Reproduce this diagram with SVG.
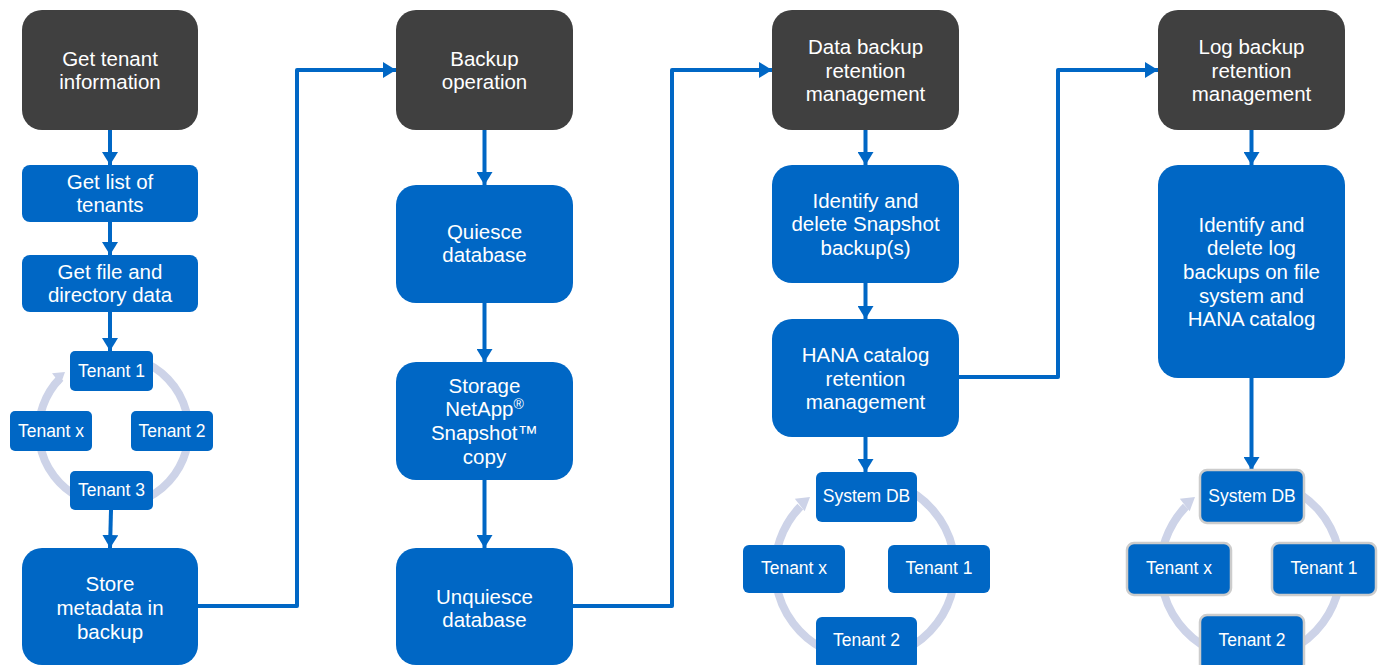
<svg xmlns="http://www.w3.org/2000/svg" width="1381" height="665" viewBox="0 0 1381 665">
<style>
.dark{fill:#404040}
.blue{fill:#0067C5}
.bord{stroke:#CCCCCC;stroke-width:2.5}
.t{font-family:"Liberation Sans",Arial,sans-serif;font-size:20.5px;fill:#fff;text-anchor:middle}
.s{font-family:"Liberation Sans",Arial,sans-serif;font-size:17.5px;fill:#fff;text-anchor:middle}
.c{fill:none;stroke:#0067C5;stroke-width:4;stroke-linejoin:round}
.ring{fill:none;stroke:#CDD3E8;stroke-width:8}
.rh{fill:#CDD3E8}
</style>
<defs>
<marker id="ah" viewBox="0 0 13 16" refX="13" refY="8" markerWidth="13" markerHeight="16" markerUnits="userSpaceOnUse" orient="auto">
<path d="M0,0 L13,8 L0,16 z" fill="#0067C5"/>
</marker>
</defs>

<g id="rings">
<path class="ring" d="M 60.5 377.9 A 75 75 0 1 0 104.5 356.3"/>
<polygon class="rh" points="0,0 -11,-7 -11,7" transform="translate(65,372) rotate(-38)"/>
<path class="ring" d="M 800.3 506.6 A 90 90 0 1 0 858 479.4"/>
<polygon class="rh" points="0,0 -13,-8 -13,8" transform="translate(810,497) rotate(-38)"/>
<path class="ring" d="M 1185.8 506.6 A 90 90 0 1 0 1243 479.4"/>
<polygon class="rh" points="0,0 -13,-8 -13,8" transform="translate(1195,497) rotate(-38)"/>
</g>

<g id="connectors">
<line class="c" x1="110" y1="130" x2="110" y2="165" marker-end="url(#ah)"/>
<line class="c" x1="110" y1="222" x2="110" y2="255" marker-end="url(#ah)"/>
<line class="c" x1="110" y1="312" x2="110" y2="351" marker-end="url(#ah)"/>
<line class="c" x1="111" y1="510" x2="110" y2="548" marker-end="url(#ah)"/>
<polyline class="c" points="198,606 297,606 297,70 396,70" marker-end="url(#ah)"/>
<line class="c" x1="484.5" y1="130" x2="484.5" y2="185" marker-end="url(#ah)"/>
<line class="c" x1="484.5" y1="303" x2="484.5" y2="362" marker-end="url(#ah)"/>
<line class="c" x1="484.5" y1="480" x2="484.5" y2="548" marker-end="url(#ah)"/>
<polyline class="c" points="573,606 672,606 672,70 772,70" marker-end="url(#ah)"/>
<line class="c" x1="865.5" y1="130" x2="865.5" y2="165" marker-end="url(#ah)"/>
<line class="c" x1="865.5" y1="283" x2="865.5" y2="319" marker-end="url(#ah)"/>
<line class="c" x1="865.5" y1="437" x2="865.5" y2="472" marker-end="url(#ah)"/>
<polyline class="c" points="959,377 1058,377 1058,70 1158,70" marker-end="url(#ah)"/>
<line class="c" x1="1251.5" y1="130" x2="1251.5" y2="165" marker-end="url(#ah)"/>
<line class="c" x1="1251.5" y1="378" x2="1251.5" y2="470" marker-end="url(#ah)"/>
</g>

<g id="n-get-tenant-info"><rect class="dark" x="22" y="10" width="176" height="120" rx="20"/><text class="t" x="110" y="66">Get tenant</text><text class="t" x="110" y="89">information</text></g>
<g id="n-get-list"><rect class="blue" x="22" y="165" width="176" height="57" rx="8"/><text class="t" x="110" y="189">Get list of</text><text class="t" x="110" y="212">tenants</text></g>
<g id="n-get-file"><rect class="blue" x="22" y="255" width="176" height="57" rx="8"/><text class="t" x="110" y="279">Get file and</text><text class="t" x="110" y="302">directory data</text></g>
<g id="n-c1-t1"><rect class="blue" x="70" y="351" width="83" height="40" rx="5"/><text class="s" x="111.5" y="377">Tenant 1</text></g>
<g id="n-c1-tx"><rect class="blue" x="10" y="411" width="82" height="40" rx="5"/><text class="s" x="51" y="437">Tenant x</text></g>
<g id="n-c1-t2"><rect class="blue" x="131" y="411" width="82" height="40" rx="5"/><text class="s" x="172" y="437">Tenant 2</text></g>
<g id="n-c1-t3"><rect class="blue" x="70" y="471" width="83" height="39" rx="5"/><text class="s" x="111.5" y="496">Tenant 3</text></g>
<g id="n-store"><rect class="blue" x="22" y="548" width="176" height="117" rx="20"/><text class="t" x="110" y="591">Store</text><text class="t" x="110" y="615">metadata in</text><text class="t" x="110" y="639">backup</text></g>

<g id="n-backup-op"><rect class="dark" x="396" y="10" width="177" height="120" rx="20"/><text class="t" x="484.5" y="66">Backup</text><text class="t" x="484.5" y="89">operation</text></g>
<g id="n-quiesce"><rect class="blue" x="396" y="185" width="177" height="118" rx="20"/><text class="t" x="484.5" y="239">Quiesce</text><text class="t" x="484.5" y="262">database</text></g>
<g id="n-snapshot"><rect class="blue" x="396" y="362" width="177" height="118" rx="20"/><text class="t" x="484.5" y="393">Storage</text><text class="t" x="484.5" y="416">NetApp<tspan font-size="14" dy="-7">®</tspan></text><text class="t" x="484.5" y="440">Snapshot™</text><text class="t" x="484.5" y="464">copy</text></g>
<g id="n-unquiesce"><rect class="blue" x="396" y="548" width="177" height="117" rx="20"/><text class="t" x="484.5" y="604">Unquiesce</text><text class="t" x="484.5" y="627">database</text></g>

<g id="n-data-retention"><rect class="dark" x="772" y="10" width="187" height="120" rx="20"/><text class="t" x="865.5" y="54">Data backup</text><text class="t" x="865.5" y="78">retention</text><text class="t" x="865.5" y="101">management</text></g>
<g id="n-identify-snap"><rect class="blue" x="772" y="165" width="187" height="118" rx="20"/><text class="t" x="865.5" y="208">Identify and</text><text class="t" x="865.5" y="231">delete Snapshot</text><text class="t" x="865.5" y="255">backup(s)</text></g>
<g id="n-hana-catalog"><rect class="blue" x="772" y="319" width="187" height="118" rx="20"/><text class="t" x="865.5" y="362">HANA catalog</text><text class="t" x="865.5" y="386">retention</text><text class="t" x="865.5" y="409">management</text></g>
<g id="n-c3-sys"><rect class="blue" x="816" y="472" width="101" height="50" rx="6"/><text class="s" x="866.5" y="502">System DB</text></g>
<g id="n-c3-tx"><rect class="blue" x="743" y="545" width="102" height="48" rx="6"/><text class="s" x="794" y="574">Tenant x</text></g>
<g id="n-c3-t1"><rect class="blue" x="888" y="545" width="102" height="48" rx="6"/><text class="s" x="939" y="574">Tenant 1</text></g>
<g id="n-c3-t2"><rect class="blue" x="816" y="617" width="101" height="52" rx="6"/><text class="s" x="866.5" y="646">Tenant 2</text></g>

<g id="n-log-retention"><rect class="dark" x="1158" y="10" width="187" height="120" rx="20"/><text class="t" x="1251.5" y="54">Log backup</text><text class="t" x="1251.5" y="78">retention</text><text class="t" x="1251.5" y="101">management</text></g>
<g id="n-identify-log"><rect class="blue" x="1158" y="165" width="187" height="213" rx="20"/><text class="t" x="1251.5" y="232">Identify and</text><text class="t" x="1251.5" y="255">delete log</text><text class="t" x="1251.5" y="279">backups on file</text><text class="t" x="1251.5" y="303">system and</text><text class="t" x="1251.5" y="326">HANA catalog</text></g>
<g id="n-c4-sys"><rect class="blue bord" x="1200" y="470" width="104" height="53" rx="7"/><text class="s" x="1252" y="502">System DB</text></g>
<g id="n-c4-tx"><rect class="blue bord" x="1127" y="543" width="104" height="52" rx="7"/><text class="s" x="1179" y="574">Tenant x</text></g>
<g id="n-c4-t1"><rect class="blue bord" x="1272" y="543" width="104" height="52" rx="7"/><text class="s" x="1324" y="574">Tenant 1</text></g>
<g id="n-c4-t2"><rect class="blue bord" x="1200" y="615" width="104" height="56" rx="7"/><text class="s" x="1252" y="646">Tenant 2</text></g>
</svg>
